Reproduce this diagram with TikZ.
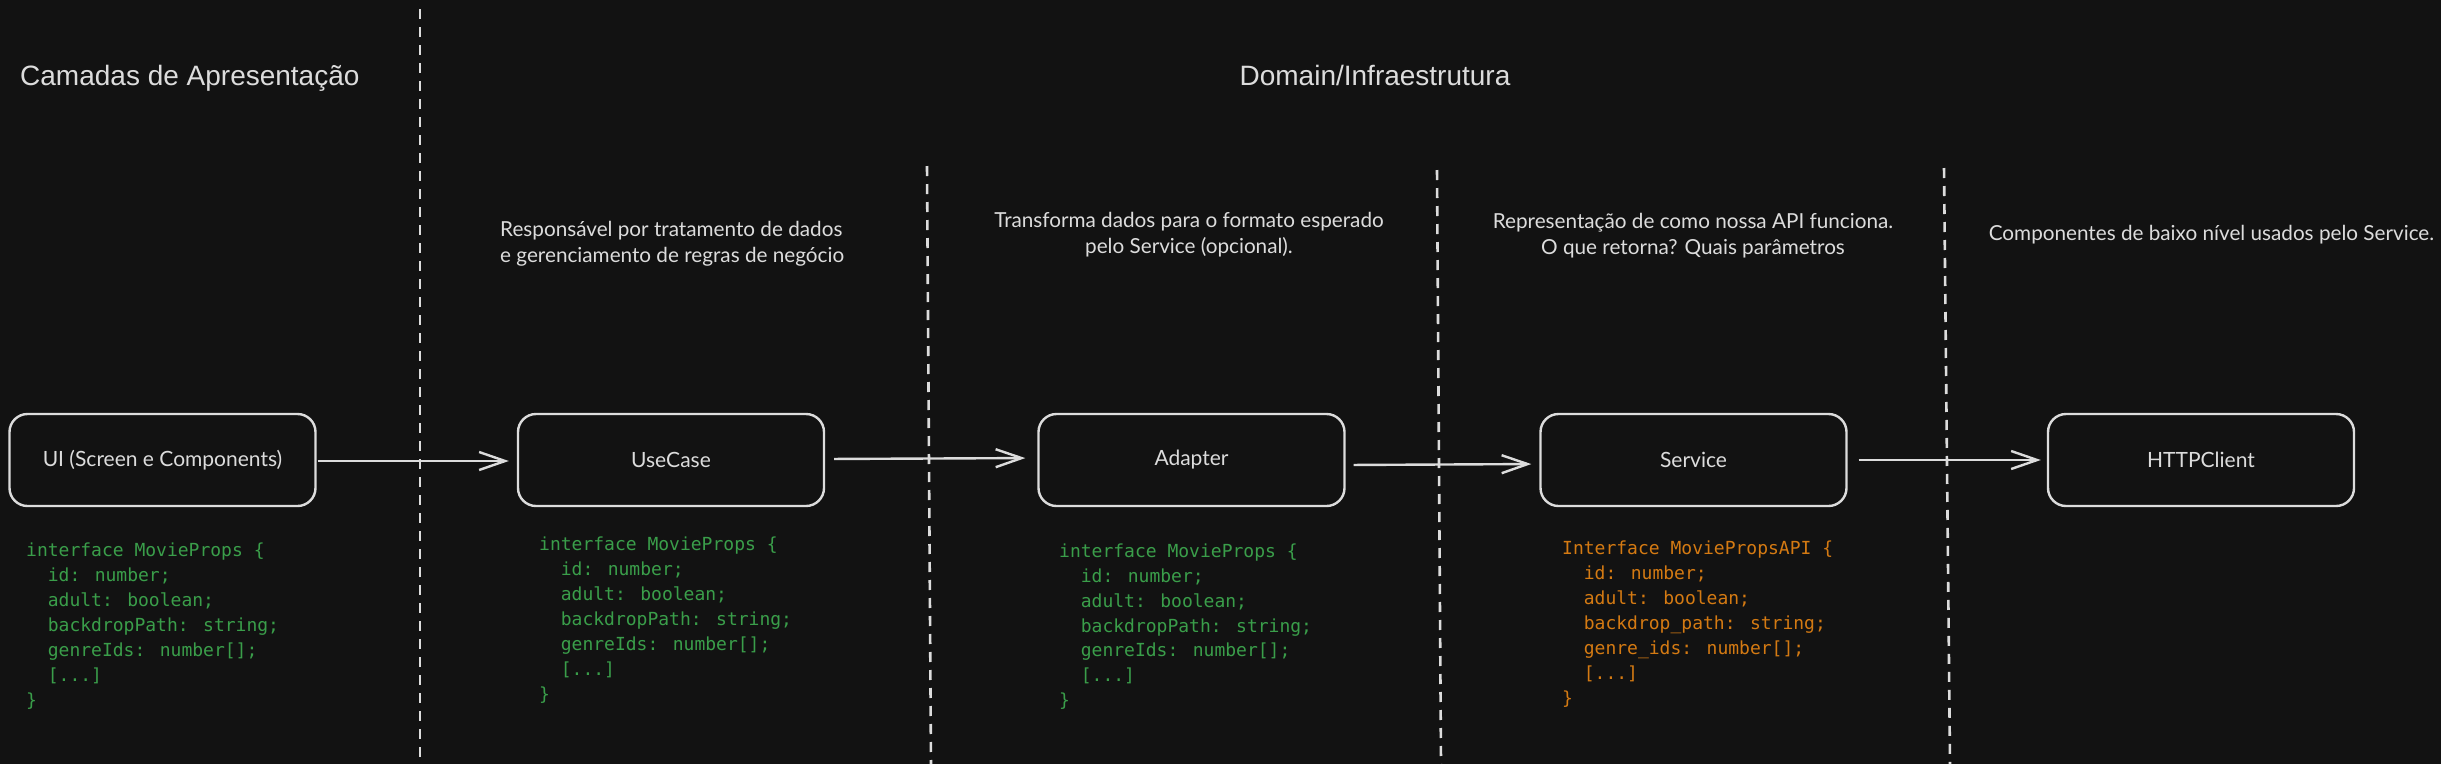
\documentclass[tikz,border=0pt]{standalone}
\usepackage{fontspec}
\setmainfont{Lato}
\newfontfamily\titlefont{Liberation Sans}
\newfontfamily\codefont{DejaVu Sans Mono}
\usetikzlibrary{arrows.meta}
\definecolor{bg}{HTML}{121212}
\definecolor{fg}{HTML}{DCDCDC}
\definecolor{codegreen}{HTML}{3A9E4A}
\definecolor{codeorange}{HTML}{D47A12}
\newcommand\ind{\phantom{xx}}
\begin{document}
\begin{tikzpicture}[x=1pt,y=-1pt,
  layerbox/.style={draw=fg, line width=2.4pt, rounded corners=18pt, minimum width=306pt, minimum height=92pt, inner sep=0pt, text=fg, font=\fontsize{21}{25}\selectfont},
  flow/.style={draw=fg, line width=2.4pt, -{Straight Barb[length=26pt,width=18pt,line width=2.4pt]}},
  divider/.style={draw=fg, line width=2.6pt, dash pattern=on 10pt off 8pt},
  desc/.style={text=fg, font=\fontsize{20.7}{26.5}\selectfont, inner sep=0pt},
  title/.style={text=fg, font=\titlefont\fontsize{28}{32}\selectfont, inner sep=0pt},
  code/.style={font=\codefont\fontsize{18}{24.9}\selectfont, align=left, inner sep=0pt, anchor=north west},
]
\fill[bg] (0,0) rectangle (2441,764);
\useasboundingbox (0,0) rectangle (2441,764);

% dividers
\draw[divider] (420,9) -- (420,764);
\draw[divider] (927,166) -- (931,764);
\draw[divider] (1437,170) -- (1441,764);
\draw[divider] (1944,168) -- (1950,764);

% titles
\node[title, anchor=base west] (tpres) at (20,85) {Camadas de Apresentação};
\node[title, anchor=base] (tdom) at (1375,85) {Domain/Infraestrutura};

% descriptions
\node[desc, align=left, anchor=north west] (dresp) at (500,221) {Responsável por tratamento de dados\\e gerenciamento de regras de negócio};
\node[desc, align=center, anchor=north] (dtrans) at (1189,212) {Transforma dados para o formato esperado\\pelo Service (opcional).};
\node[desc, align=center, anchor=north] (drepr) at (1693,213) {Representação de como nossa API funciona.\\O que retorna? Quais parâmetros};
\node[desc, anchor=base] (dcomp) at (2211.5,240.5) {Componentes de baixo nível usados pelo Service.};

% boxes
\node[layerbox] (ui) at (162.5,460) {UI (Screen e Components)};
\node[layerbox] (uc) at (671,460) {UseCase};
\node[layerbox] (ad) at (1191.5,460) {Adapter};
\node[layerbox] (sv) at (1693.5,460) {Service};
\node[layerbox] (hc) at (2201,460) {HTTPClient};

% connectors
\draw[flow, shorten <=1pt, shorten >=8pt] ([yshift=-1pt]ui.east) -- ([yshift=-1pt]uc.west);
\draw[flow, shorten <=9pt, shorten >=12pt] ([yshift=1pt]uc.east) -- ([yshift=2pt]ad.west);
\draw[flow, shorten <=8pt, shorten >=8pt] ([yshift=-5pt]ad.east) -- ([yshift=-4pt]sv.west);
\draw[flow, shorten <=11pt, shorten >=6pt] (sv.east) -- (hc.west);

% code blocks
\node[code, text=codegreen] (c1) at (26,543) {interface MovieProps \{\\\ind id: number;\\\ind adult: boolean;\\\ind backdropPath: string;\\\ind genreIds: number[];\\\ind[...]\\\}};
\node[code, text=codegreen] (c2) at (539,537) {interface MovieProps \{\\\ind id: number;\\\ind adult: boolean;\\\ind backdropPath: string;\\\ind genreIds: number[];\\\ind[...]\\\}};
\node[code, text=codegreen] (c3) at (1059,543.5) {interface MovieProps \{\\\ind id: number;\\\ind adult: boolean;\\\ind backdropPath: string;\\\ind genreIds: number[];\\\ind[...]\\\}};
\node[code, text=codeorange] (c4) at (1562,541) {Interface MoviePropsAPI \{\\\ind id: number;\\\ind adult: boolean;\\\ind backdrop\_path: string;\\\ind genre\_ids: number[];\\\ind[...]\\\}};
\end{tikzpicture}
\end{document}
